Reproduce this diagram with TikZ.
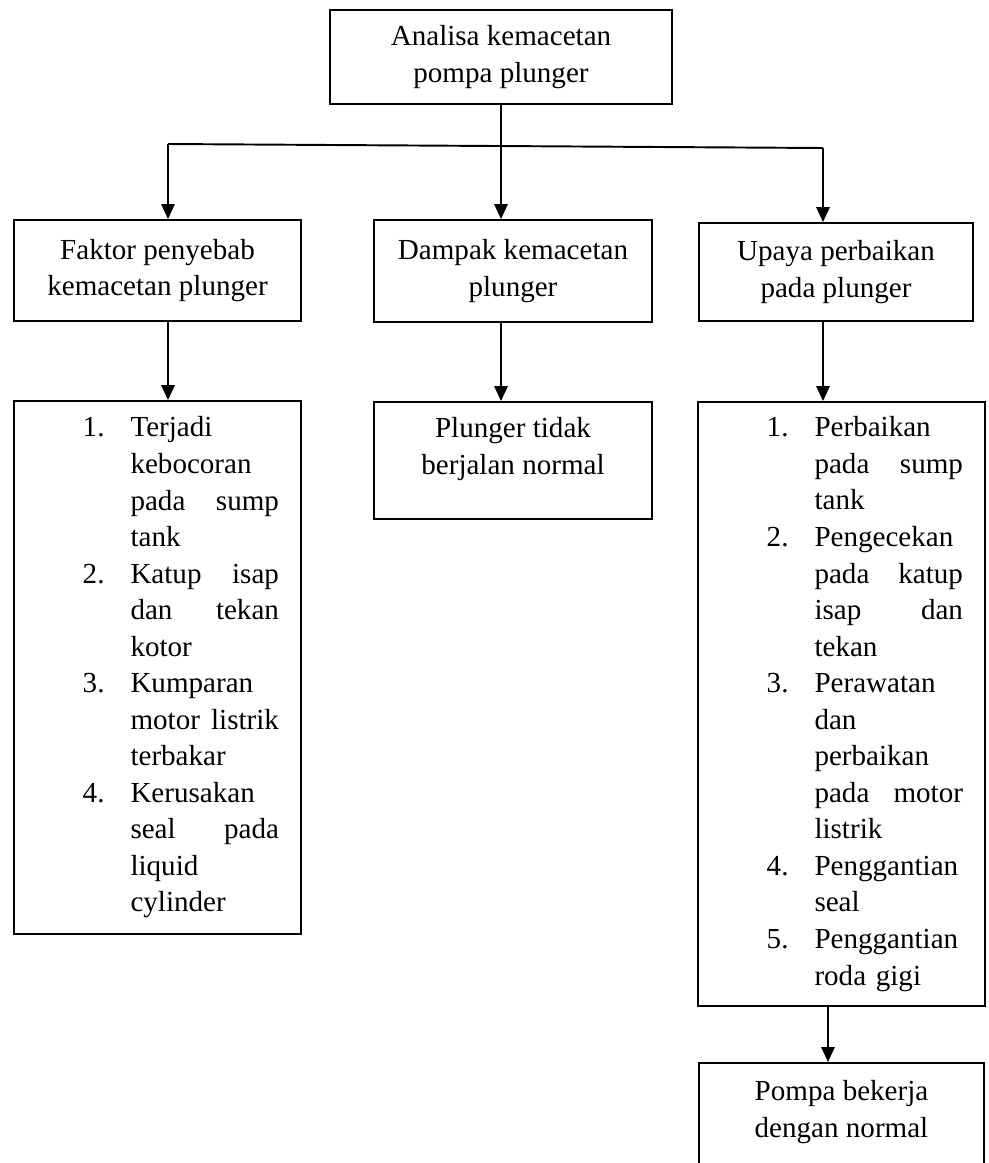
\documentclass[tikz,border=0pt]{standalone}
\usepackage{fontspec}
\setmainfont{Liberation Serif}
\usepackage{tikz}
\usetikzlibrary{positioning,arrows.meta,calc}

% one line of a numbered list: label, then text (use \hfill to justify)
\newcommand{\butir}[2]{\hspace*{39.1pt}\makebox[27.2pt][l]{#1}\makebox[84.5pt][l]{#2}}

\begin{document}
\begin{tikzpicture}[
  x=0.02cm, y=-0.02cm,
  box/.style={draw, line width=1.1pt, align=center, inner sep=0pt,
    font=\fontsize{16.55}{20.8}\selectfont},
  listbox/.style={draw, line width=1.1pt, align=left, inner xsep=0pt, inner ysep=0pt,
    text width=5.74cm, font=\fontsize{16.55}{20.8}\selectfont},
  arr/.style={-{Triangle[length=8.5pt, width=7.6pt]}, line width=1.1pt}
]
\useasboundingbox (0,0) rectangle (989,1163);
\clip (0,0) rectangle (989,1163);

\node[box, minimum width=6.84cm, minimum height=1.88cm] (analisa) at (501,57) {Analisa kemacetan\\pompa plunger};

\node[box, minimum width=5.74cm, minimum height=2.02cm] (faktor) at (157.5,270.5) {Faktor penyebab\\kemacetan plunger};
\node[box, minimum width=5.56cm, minimum height=2.04cm] (dampak) at (513,271) {Dampak kemacetan\\plunger};
\node[box, minimum width=5.48cm, minimum height=1.96cm] (upaya) at (836,272) {Upaya perbaikan\\pada plunger};

\node[listbox, minimum height=10.66cm] (penyebab) at (157.5,667.5) {%
\butir{1.}{Terjadi}\\
\butir{}{kebocoran}\\
\butir{}{pada\hfill sump}\\
\butir{}{tank}\\
\butir{2.}{Katup\hfill isap}\\
\butir{}{dan\hfill tekan}\\
\butir{}{kotor}\\
\butir{3.}{Kumparan}\\
\butir{}{motor\hfill listrik}\\
\butir{}{terbakar}\\
\butir{4.}{Kerusakan}\\
\butir{}{seal\hfill pada}\\
\butir{}{liquid}\\
\butir{}{cylinder}};

\node[box, minimum width=5.56cm, minimum height=2.34cm] (akibat) at (513,460.5) {Plunger tidak\\berjalan normal\\[-4pt] \mbox{}};

\node[listbox, minimum height=12.08cm] (perbaikan) at (841.5,704) {%
\butir{1.}{Perbaikan}\\
\butir{}{pada\hfill sump}\\
\butir{}{tank}\\
\butir{2.}{Pengecekan}\\
\butir{}{pada\hfill katup}\\
\butir{}{isap\hfill dan}\\
\butir{}{tekan}\\
\butir{3.}{Perawatan}\\
\butir{}{dan}\\
\butir{}{perbaikan}\\
\butir{}{pada\hfill motor}\\
\butir{}{listrik}\\
\butir{4.}{Penggantian}\\
\butir{}{seal}\\
\butir{5.}{Penggantian}\\
\butir{}{roda gigi}};

\node[box, minimum width=5.7cm, inner ysep=10pt, anchor=north] (hasil) at (841.5,1062) {Pompa bekerja\\dengan normal\\ \mbox{}};

% cabang ke tiga kotak
\coordinate (cabangL) at (168,144);
\coordinate (cabangR) at (823,148);
\draw[line width=1.1pt] (cabangL) -- (cabangR);
\draw[arr] (analisa.south) -- (analisa.south |- dampak.north);
\draw[arr] (cabangL) -- (cabangL |- faktor.north);
\draw[arr] (cabangR) -- (cabangR |- upaya.north);

\draw[arr] (cabangL |- faktor.south) -- (cabangL |- penyebab.north);
\draw[arr] (analisa.south |- dampak.south) -- (analisa.south |- akibat.north);
\draw[arr] (cabangR |- upaya.south) -- (cabangR |- perbaikan.north);
\draw[arr] ([xshift=0.1cm]cabangR |- perbaikan.south) -- ([xshift=0.1cm]cabangR |- hasil.north);
\end{tikzpicture}
\end{document}
